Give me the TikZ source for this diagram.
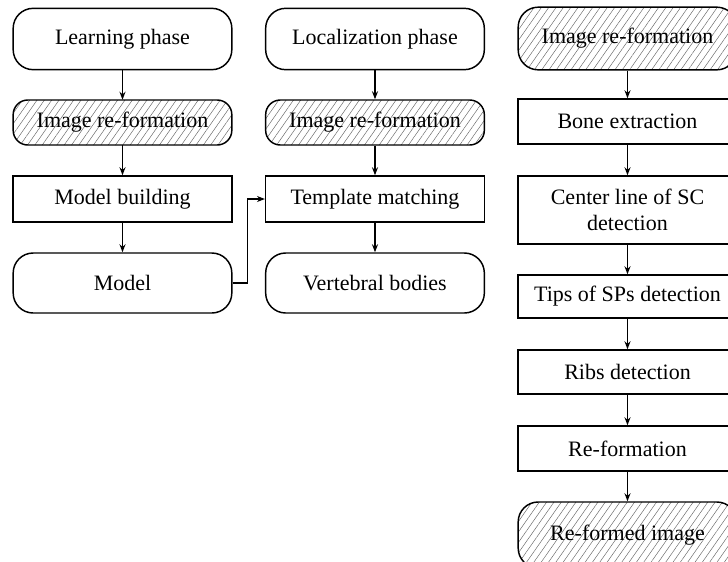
\documentclass[tikz,border=0pt]{standalone}
\usepackage{fontspec}
\setmainfont{Liberation Serif}
\usetikzlibrary{arrows.meta,patterns.meta}

\begin{document}
\begin{tikzpicture}[x=0.75pt,y=-0.75pt,
    box/.style={draw, line width=1.1pt, minimum width=164pt, align=center,
      inner sep=2pt, font=\fontsize{16.5}{19.5}\selectfont},
    term/.style={box, rounded corners=15pt},
    proc/.style={box, rectangle},
    hatched/.style={box, rounded corners=11pt,
      pattern={Lines[angle=55,distance=4.5pt,line width=0.35pt]},
      pattern color=black!60},
    link/.style={->, line width=1pt},
    >={Stealth[length=6pt,width=4.5pt]}]
  \useasboundingbox (0,0) rectangle (728,561);
  \clip (0,0) rectangle (728,561);

  % learning column
  \node[term, minimum height=46pt] (l1) at (122.5, 39) {Learning phase};
  \node[hatched, minimum height=33.75pt] (l2) at (122.5, 122.5) {Image re-formation};
  \node[proc, minimum height=34.5pt] (l3) at (122.5, 199) {Model building};
  \node[term, minimum height=45pt] (l4) at (122.5, 283) {Model};

  % localization column
  \node[term, minimum height=46pt] (z1) at (375, 39) {Localization phase};
  \node[hatched, minimum height=33.75pt] (z2) at (375, 122.5) {Image re-formation};
  \node[proc, minimum height=34.5pt] (z3) at (375, 199) {Template matching};
  \node[term, minimum height=45pt] (z4) at (375, 283) {Vertebral bodies};

  % re-formation column
  \node[hatched, rounded corners=15pt, minimum height=47pt] (r1) at (627.5, 38.5) {Image re-formation};
  \node[proc, minimum height=33.75pt] (r2) at (627.5, 121.5) {Bone extraction};
  \node[proc, minimum height=51pt] (r3) at (627.5, 210) {Center line of SC\\detection};
  \node[proc, minimum height=32.25pt] (r4) at (627.5, 296.5) {Tips of SPs detection};
  \node[proc, minimum height=33pt] (r5) at (627.5, 372) {Ribs detection};
  \node[proc, minimum height=33.75pt] (r6) at (627.5, 448.5) {Re-formation};
  \node[hatched, rounded corners=15pt, minimum height=49.5pt] (r7) at (627.5, 535) {Re-formed image};

  \draw[link] (l1) to (l2);
  \draw[link] (l2) to (l3);
  \draw[link] (l3) to (l4);

  \draw[link] (z1) to (z2);
  \draw[link] (z2) to (z3);
  \draw[link] (z3) to (z4);

  \draw[link] (l4.east) -- ++(15,0) |- (z3.west);

  \draw[link] (r1) to (r2);
  \draw[link] (r2) to (r3);
  \draw[link] (r3) to (r4);
  \draw[link] (r4) to (r5);
  \draw[link] (r5) to (r6);
  \draw[link] (r6) to (r7);
\end{tikzpicture}
\end{document}
